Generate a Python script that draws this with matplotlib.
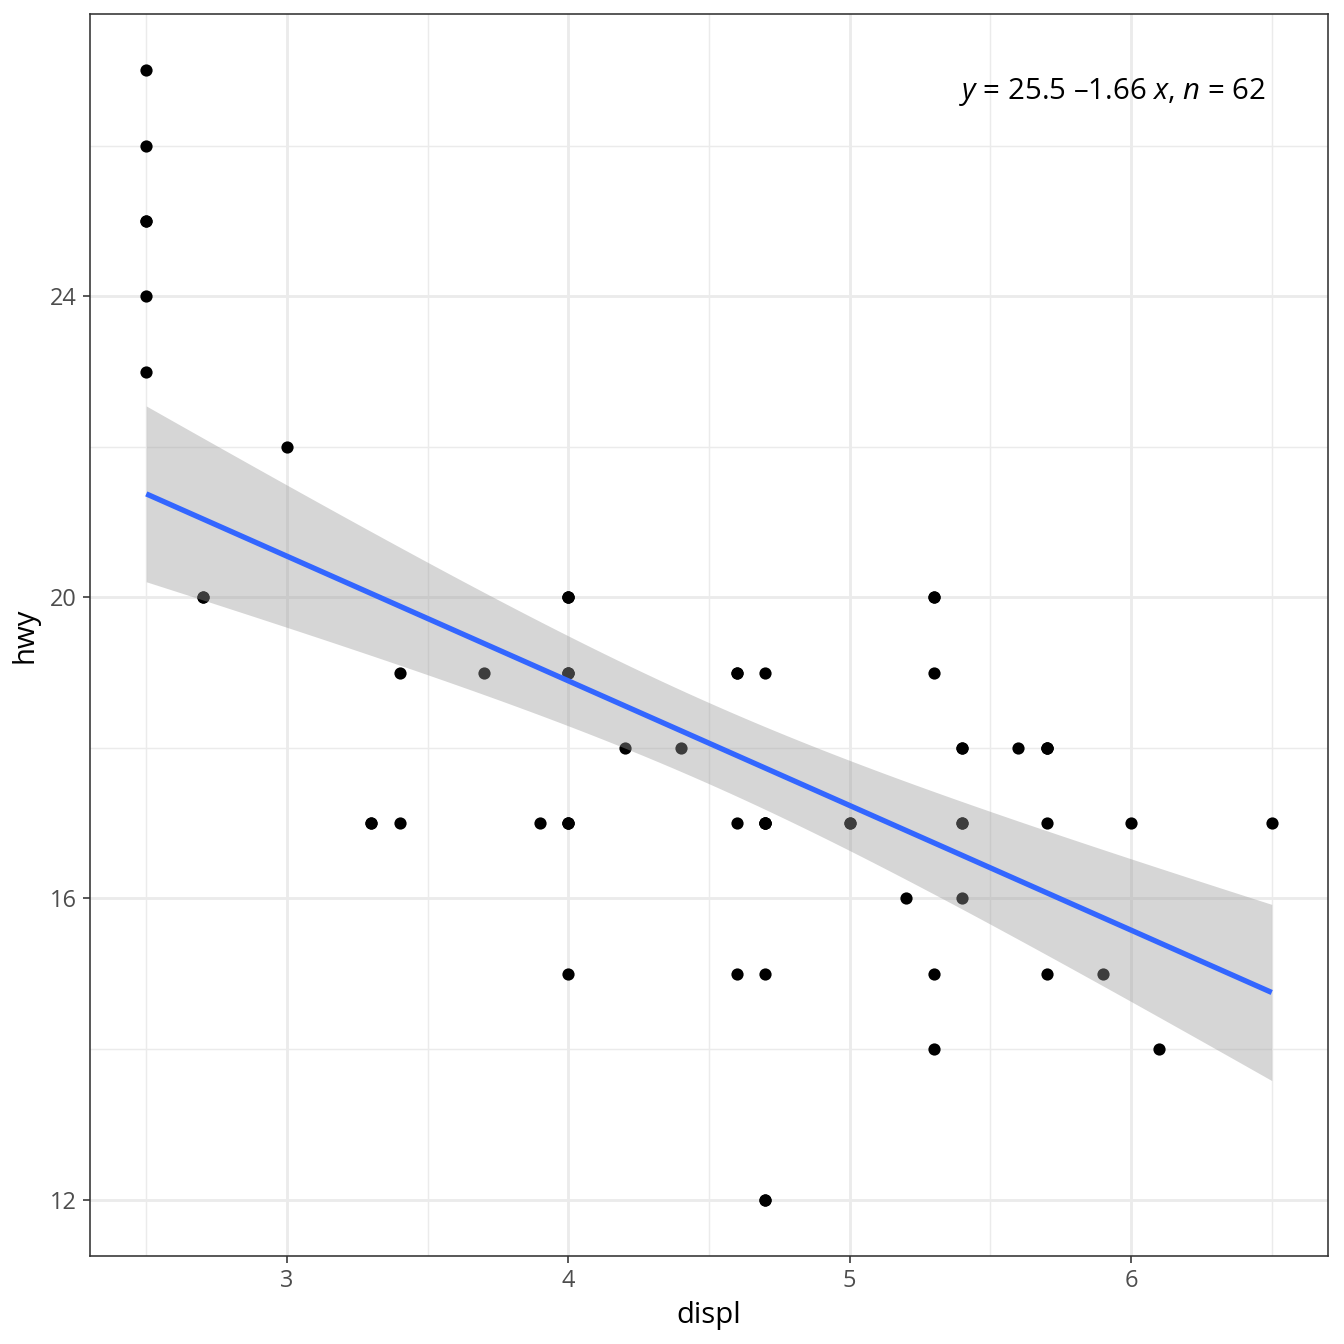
import numpy as np
import matplotlib
matplotlib.use("Agg")
import matplotlib.pyplot as plt

plt.rcParams['font.family'] = ['Open Sans', 'DejaVu Sans']
plt.rcParams['mathtext.fontset'] = 'custom'
plt.rcParams['mathtext.rm'] = 'Open Sans'
plt.rcParams['mathtext.it'] = 'Open Sans:italic'

# mpg, class == "suv"
displ = [5.3, 5.3, 5.3, 5.7, 6.0,
         5.3, 5.3, 5.7, 6.5,
         3.9, 4.7, 4.7, 4.7, 5.2, 5.7, 5.9,
         4.6, 5.4, 5.4,
         4.0, 4.0, 4.0, 4.0, 4.6, 5.0,
         3.0, 3.7, 4.0, 4.7, 4.7, 4.7, 5.7, 6.1,
         4.0, 4.2, 4.4, 4.6,
         5.4, 5.4, 5.4,
         4.0, 4.0, 4.6, 5.0,
         3.3, 3.3, 4.0, 5.6,
         2.5, 2.5, 2.5, 2.5, 2.5, 2.5,
         2.7, 2.7, 3.4, 3.4, 4.0, 4.7,
         4.7, 5.7]
hwy = [20, 15, 20, 17, 17,
       19, 14, 15, 17,
       17, 17, 12, 17, 16, 18, 15,
       17, 17, 18,
       17, 19, 17, 19, 19, 17,
       22, 19, 20, 17, 19, 12, 18, 14,
       15, 18, 18, 15,
       17, 16, 18,
       17, 19, 19, 17,
       17, 17, 20, 18,
       25, 24, 27, 25, 26, 23,
       20, 20, 19, 17, 20, 17,
       15, 18]
x_ticks = [3, 4, 5, 6]
x_minor = [2.5, 3.5, 4.5, 5.5, 6.5]
y_ticks = [12, 16, 20, 24]
y_minor = [14, 18, 22, 26]

# robust (Huber M-estimator) linear fit, as MASS::rlm
x = np.array(displ, float)
y = np.array(hwy, float)
X = np.column_stack([np.ones_like(x), x])
coef = np.linalg.lstsq(X, y, rcond=None)[0]
k = 1.345
for _ in range(500):
    r = y - X @ coef
    s = np.median(np.abs(r)) / 0.6745
    w = np.minimum(1, k / np.maximum(np.abs(r / s), 1e-12))
    sw = np.sqrt(w)
    new = np.linalg.lstsq(X * sw[:, None], y * sw, rcond=None)[0]
    if np.max(np.abs(new - coef)) < 1e-12:
        coef = new
        break
    coef = new
r = y - X @ coef
s = np.median(np.abs(r)) / 0.6745
w = np.minimum(1, k / np.maximum(np.abs(r / s), 1e-12))
XtWX_inv = np.linalg.inv((X * w[:, None]).T @ X)

xs = np.linspace(x.min(), x.max(), 80)
Xs = np.column_stack([np.ones_like(xs), xs])
ys = Xs @ coef
se = s * np.sqrt(np.einsum('ij,jk,ik->i', Xs, XtWX_inv, Xs))
lo, hi = ys - 1.959964 * se, ys + 1.959964 * se

b0, b1 = coef
sign = '–' if b1 < 0 else '+'
eq_label = rf"$y$ = {b0:.1f} {sign}{abs(b1):.2f} $x$, $n$ = {len(x)}"

fig = plt.figure(figsize=(7, 7), dpi=192)
ax = fig.add_axes([90/1344, 1 - 1256/1344, (1328-90)/1344, (1256-14)/1344])
ax.set_xlim(2.3, 6.7)
ax.set_ylim(11.25, 27.75)

ax.set_xticks(x_ticks)
ax.set_xticks(x_minor, minor=True)
ax.set_yticks(y_ticks)
ax.set_yticks(y_minor, minor=True)
ax.grid(True, which='major', color='#EBEBEB', lw=1.07)
ax.grid(True, which='minor', color='#EBEBEB', lw=0.53)
ax.set_axisbelow(True)
for sp in ax.spines.values():
    sp.set_color('#333333')
    sp.set_linewidth(0.6)
ax.tick_params(which='major', length=2.75, width=0.6, color='#333333',
               labelsize=8.8, labelcolor='#4D4D4D', pad=2.2)
ax.tick_params(which='minor', length=0)

ax.scatter(x, y, s=21, color='black', linewidths=0, zorder=2)
ax.fill_between(xs, lo, hi, color='#999999', alpha=0.4, linewidth=0, zorder=3)
ax.plot(xs, ys, color='#3366FF', lw=2.0, zorder=4, solid_capstyle='butt')

ax.text(0.95, 0.95, eq_label, transform=ax.transAxes, ha='right', va='top',
        fontsize=11, color='black', zorder=5)

ax.set_xlabel('displ', fontsize=11, labelpad=3)
ax.set_ylabel('hwy', fontsize=11, labelpad=4)

fig.savefig('out.png', dpi=192)
